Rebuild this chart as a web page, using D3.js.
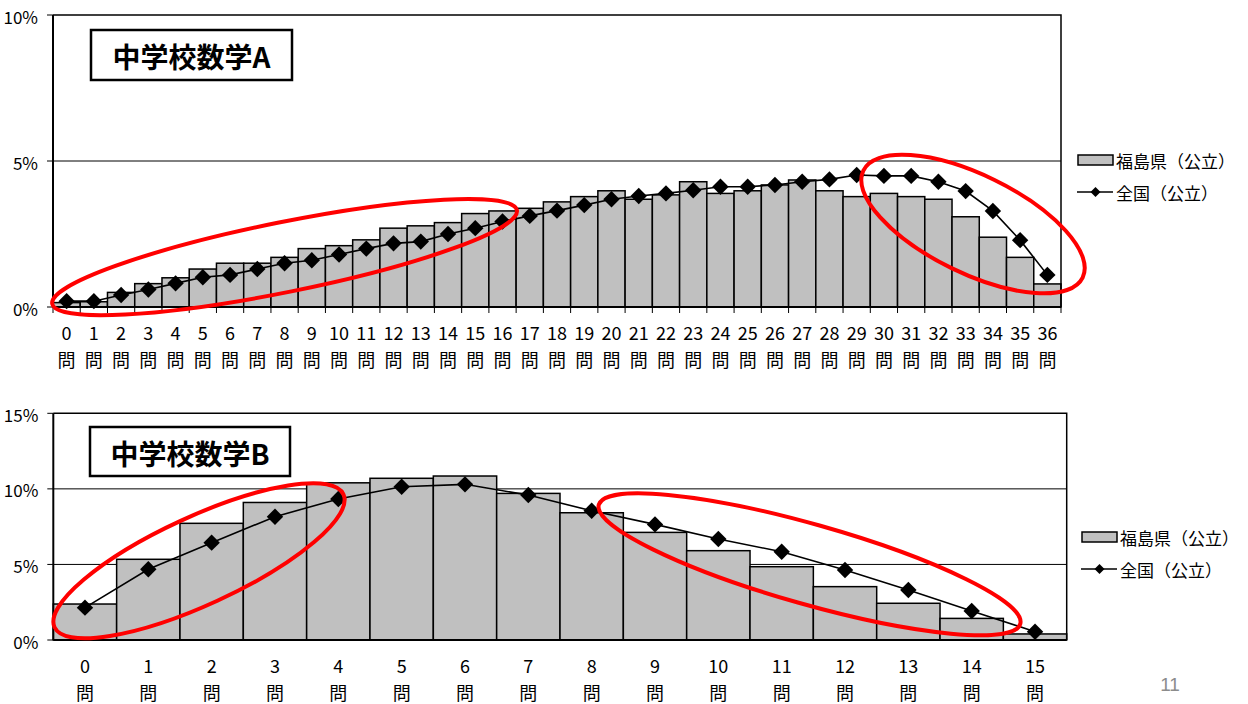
<!DOCTYPE html>
<html>
<head>
<meta charset="utf-8">
<script src="https://cdn.jsdelivr.net/npm/d3@7"></script>
<style>
  html, body { margin: 0; padding: 0; background: #fff; }
  svg { display: block; }
  text { font-family: "Noto Sans CJK JP", "Noto Sans", sans-serif; fill: #000; }
</style>
</head>
<body>
<svg id="chart" width="1248" height="704"></svg>
<script>
// ---------- Data ----------
const categoriesA = ["0","1","2","3","4","5","6","7","8","9","10","11","12","13","14","15","16","17","18",
  "19","20","21","22","23","24","25","26","27","28","29","30","31","32","33","34","35","36"];
const fukushimaA = [0.15,0.18,0.5,0.8,1.0,1.3,1.5,1.5,1.7,2.0,2.1,2.3,2.7,2.78,2.89,3.2,3.29,3.38,3.6,
  3.78,3.98,3.69,3.84,4.29,3.89,3.98,4.18,4.35,3.98,3.78,3.89,3.78,3.69,3.09,2.39,1.7,0.79];
const nationalA = [0.2,0.2,0.41,0.6,0.81,1.02,1.1,1.3,1.5,1.6,1.8,2.0,2.18,2.24,2.5,2.7,2.93,3.12,3.3,
  3.49,3.69,3.8,3.89,4.0,4.12,4.12,4.18,4.29,4.37,4.52,4.49,4.49,4.29,3.97,3.29,2.29,1.1];
const yTicksA = [0, 5, 10];

const categoriesB = ["0","1","2","3","4","5","6","7","8","9","10","11","12","13","14","15"];
const fukushimaB = [2.38,5.34,7.72,9.1,10.4,10.7,10.85,9.7,8.42,7.12,5.91,4.85,3.53,2.43,1.43,0.4];
const nationalB = [2.14,4.68,6.44,8.16,9.33,10.14,10.3,9.59,8.55,7.65,6.68,5.84,4.63,3.31,1.92,0.55];
const yTicksB = [0, 5, 10, 15];

const titleA = "中学校数学A";
const titleB = "中学校数学B";
const seriesNames = ["福島県（公立）", "全国（公立）"];
const unitLabel = "問";
const pageNumber = "11";

// Red highlight ellipses (centre in category index / value units)
const highlightsA = [
  { cx: 8.0, cy: 1.71, rx: 237, ry: 35, angle: -11.4 },
  { cx: 33.27, cy: 2.84, rx: 122, ry: 49, angle: 26 }
];
const highlightsB = [
  { cx: 1.8, cy: 5.24, rx: 159, ry: 44, angle: -24.7 },
  { cx: 11.44, cy: 5.01, rx: 219, ry: 40, angle: 15.8 }
];

// ---------- Drawing ----------
const svg = d3.select("#chart");

function drawChart(opt) {
  const g = svg.append("g");
  const x = d3.scaleBand().domain(opt.categories).range([opt.left, opt.right]).padding(0);
  const y = d3.scaleLinear().domain([0, opt.yMax]).range([opt.bottom, opt.top]);
  const cx = i => opt.left + (i + 0.5) * x.step();

  g.append("rect").attr("x", opt.left).attr("y", opt.top)
    .attr("width", opt.right - opt.left).attr("height", opt.bottom - opt.top)
    .attr("fill", "#fff");

  // gridlines
  g.append("g").selectAll("line").data(opt.yTicks.filter(t => t > 0 && t < opt.yMax)).join("line")
    .attr("x1", opt.left).attr("x2", opt.right)
    .attr("y1", d => y(d)).attr("y2", d => y(d))
    .attr("stroke", "#000").attr("stroke-width", 1);

  // bars
  g.append("g").selectAll("rect").data(opt.bars).join("rect")
    .attr("x", (d, i) => x(opt.categories[i]))
    .attr("width", x.bandwidth())
    .attr("y", d => y(d))
    .attr("height", d => y(0) - y(d))
    .attr("fill", "#c0c0c0").attr("stroke", "#000").attr("stroke-width", 1.5);

  // frame (top & right)
  g.append("path")
    .attr("d", `M${opt.left},${opt.top}H${opt.right}V${opt.bottom}`)
    .attr("fill", "none").attr("stroke", "#000").attr("stroke-width", 1.5);

  // axes lines
  g.append("line").attr("x1", opt.left).attr("x2", opt.left)
    .attr("y1", opt.top).attr("y2", opt.bottom).attr("stroke", "#000").attr("stroke-width", 2);
  g.append("line").attr("x1", opt.left).attr("x2", opt.right)
    .attr("y1", opt.bottom).attr("y2", opt.bottom).attr("stroke", "#000").attr("stroke-width", 2);

  // y ticks & labels
  g.append("g").selectAll("line").data(opt.yTicks).join("line")
    .attr("x1", opt.left - 6).attr("x2", opt.left)
    .attr("y1", d => y(d)).attr("y2", d => y(d))
    .attr("stroke", "#000").attr("stroke-width", 1);
  g.append("g").selectAll("text").data(opt.yTicks).join("text")
    .attr("x", opt.left - 15).attr("y", d => y(d) + 1)
    .attr("text-anchor", "end").attr("dominant-baseline", "central")
    .attr("font-size", 17).text(d => d + "%");

  // x ticks
  if (opt.xTicks) {
    g.append("g").selectAll("line").data(d3.range(opt.categories.length + 1)).join("line")
      .attr("x1", i => opt.left + i * x.step()).attr("x2", i => opt.left + i * x.step())
      .attr("y1", opt.bottom).attr("y2", opt.bottom + 6)
      .attr("stroke", "#000").attr("stroke-width", 1);
  }
  // x labels
  const xl = g.append("g").selectAll("g").data(opt.categories).join("g")
    .attr("transform", d => `translate(${x(d) + x.bandwidth() / 2},0)`);
  xl.append("text").attr("y", opt.bottom + 25).attr("text-anchor", "middle")
    .attr("dominant-baseline", "central").attr("font-size", 18).text(d => d);
  xl.append("text").attr("y", opt.bottom + 52).attr("text-anchor", "middle")
    .attr("dominant-baseline", "central").attr("font-size", 18).text(unitLabel);

  // line series
  g.append("path").datum(opt.line)
    .attr("d", d3.line().x((d, i) => cx(i)).y(d => y(d)))
    .attr("fill", "none").attr("stroke", "#000").attr("stroke-width", 1.6);
  const r = 8.2;
  g.append("g").selectAll("path").data(opt.line).join("path")
    .attr("transform", (d, i) => `translate(${cx(i)},${y(d)})`)
    .attr("d", `M0,${-r}L${r},0L0,${r}L${-r},0Z`)
    .attr("fill", "#000");

  // title box
  g.append("rect").attr("x", opt.titleBox[0]).attr("y", opt.titleBox[1])
    .attr("width", opt.titleBox[2]).attr("height", opt.titleBox[3])
    .attr("fill", "#fff").attr("stroke", "#000").attr("stroke-width", 2.5);
  g.append("text").attr("x", opt.titleBox[0] + opt.titleBox[2] / 2)
    .attr("y", opt.titleBox[1] + opt.titleBox[3] / 2 + 1)
    .attr("text-anchor", "middle").attr("dominant-baseline", "central")
    .attr("font-size", 28).attr("font-weight", 700).text(opt.title);

  // highlight ellipses
  g.append("g").selectAll("ellipse").data(opt.highlights).join("ellipse")
    .attr("transform", d => `translate(${cx(d.cx)},${y(d.cy)}) rotate(${d.angle})`)
    .attr("rx", d => d.rx).attr("ry", d => d.ry)
    .attr("fill", "none").attr("stroke", "#ff0000").attr("stroke-width", 4);

  // legend
  const lg = g.append("g").attr("transform", `translate(${opt.legend[0]},${opt.legend[1]})`);
  lg.append("rect").attr("x", 0).attr("y", -5).attr("width", 35).attr("height", 10)
    .attr("fill", "#c0c0c0").attr("stroke", "#000").attr("stroke-width", 1.5);
  lg.append("text").attr("x", 38).attr("y", 0).attr("dominant-baseline", "central")
    .attr("font-size", 17).text(seriesNames[0]);
  lg.append("line").attr("x1", -1).attr("x2", 35).attr("y1", 32).attr("y2", 32)
    .attr("stroke", "#000").attr("stroke-width", 1.6);
  const lr = 5;
  lg.append("path").attr("transform", "translate(17.5,32)")
    .attr("d", `M0,${-lr}L${lr},0L0,${lr}L${-lr},0Z`).attr("fill", "#000");
  lg.append("text").attr("x", 38).attr("y", 32).attr("dominant-baseline", "central")
    .attr("font-size", 17).text(seriesNames[1]);
}

drawChart({
  categories: categoriesA, bars: fukushimaA, line: nationalA, yTicks: yTicksA, yMax: 10,
  left: 53, right: 1061, top: 15, bottom: 307, xTicks: true,
  title: titleA, titleBox: [91, 30, 201, 50], highlights: highlightsA, legend: [1078, 160]
});
drawChart({
  categories: categoriesB, bars: fukushimaB, line: nationalB, yTicks: yTicksB, yMax: 15,
  left: 53.3, right: 1066.7, top: 413.3, bottom: 640, xTicks: false,
  title: titleB, titleBox: [90, 427, 200, 49], highlights: highlightsB, legend: [1082, 537]
});

svg.append("text").attr("x", 1170).attr("y", 684).attr("text-anchor", "middle")
  .attr("dominant-baseline", "central").attr("font-size", 19)
  .style("font-family", "'Liberation Sans', Arial, sans-serif").style("fill", "#8c8c8c")
  .text(pageNumber);
</script>
</body>
</html>
